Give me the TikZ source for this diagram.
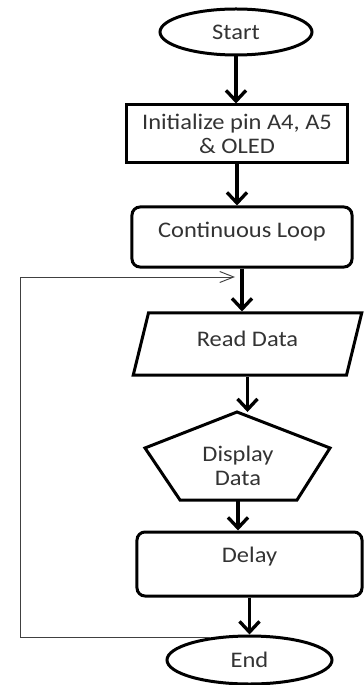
\documentclass[tikz,border=0pt]{standalone}
\usepackage{fontspec}
\setmainfont{Carlito}[FakeStretch=1.1]
\usetikzlibrary{arrows.meta,shapes.geometric}

\begin{document}
\begin{tikzpicture}[x=0.03cm,y=-0.03cm,
	every node/.style={font=\fontsize{19}{20}\selectfont,text=black!80,align=center},
	box/.style={draw=black,line width=0.09cm,inner sep=0pt},
	flow/.style={line width=0.1cm,-{Straight Barb[length=0.32cm,width=0.6cm]}},
	back/.style={line width=0.8pt,draw=black!75,-{Straight Barb[length=0.42cm,width=0.33cm]}}]
	\useasboundingbox (0,0) rectangle (363,685);
	\node[box,ellipse,minimum width=4.56cm,minimum height=1.38cm] (start) at (236,32) {Start};
	\node[box,rectangle,minimum width=6.6cm,minimum height=1.74cm] (init) at (237,134) {Initialize pin A4, A5\\\& OLED};
	\node[box,rectangle,rounded corners=0.24cm,minimum width=6.6cm,minimum height=1.8cm,text depth=0.42cm] (loop) at (242,237) {Continuous Loop};
	\node[box,trapezium,trapezium left angle=73,trapezium right angle=107,trapezium stretches=true,minimum width=6.87cm,minimum height=1.86cm,text depth=0.3cm] (read) at (247.5,344) {Read Data};
	\coordinate (ptop) at (237,412);
	\coordinate (pbot) at (238,500);
	\draw[line width=0.09cm] (ptop) -- (330,448) -- (297,500) -- (180,500) -- (145,448) -- cycle;
	\node (disp) at (238,466) {Display\\Data};
	\node[box,rectangle,rounded corners=0.24cm,minimum width=6.75cm,minimum height=1.92cm,text depth=0.56cm] (delay) at (249.5,564) {Delay};
	\node[box,ellipse,minimum width=4.95cm,minimum height=1.44cm] (end) at (249.5,660) {End};
	\coordinate (corner) at (20,277);
	\coordinate (in) at (235,277);
	\draw[flow] (start.south) -- (start.south |- init.north);
	\draw[flow] (init.south) -- (init.south |- loop.north);
	\draw[flow] (loop.south) -- (loop.south |- read.north);
	\draw[flow] (read.south) -- (read.south |- ptop);
	\draw[flow] (pbot) -- (pbot |- delay.north);
	\draw[flow] (delay.south) -- (delay.south |- end.north);
	\draw[back] (end.150) -| (corner) -- (in);
\end{tikzpicture}
\end{document}
